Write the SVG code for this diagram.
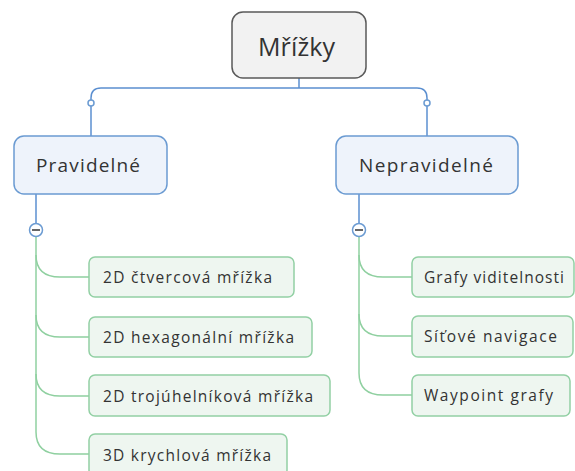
<svg xmlns="http://www.w3.org/2000/svg" width="575" height="471" viewBox="0 0 575 471">
<style>
text{font-family:"Open Sans","Noto Sans","DejaVu Sans",sans-serif;fill:#333;dominant-baseline:central}
.root rect{fill:#f2f2f2;stroke:#5a5a5a;stroke-width:1.5}
.main rect{fill:#eef3fb;stroke:#6b9bd2;stroke-width:1.5}
.leaf rect{fill:#eef6f0;stroke:#92d0a4;stroke-width:1.5}
.leaf text{font-size:15.5px}
.main text{font-size:19px}
.blue{fill:none;stroke:#5b8fd0;stroke-width:1.5}
.green{fill:none;stroke:#8fd0a0;stroke-width:1.5}
.knob{fill:#fff;stroke:#6b9bd2;stroke-width:1.5}
.minus{stroke:#333;stroke-width:1.5}
</style>
<g id="connectors">
<path class="blue" d="M299,78 V88"/>
<path class="blue" d="M91,100 V98 Q91,88 101,88 H417 Q427,88 427,98 V100"/>
<path class="blue" d="M91,106 V136"/>
<path class="blue" d="M427,106 V136"/>
<circle class="knob" cx="91" cy="103" r="3"/>
<circle class="knob" cx="427" cy="103" r="3"/>
<path class="blue" d="M36,194 V224"/>
<path class="blue" d="M359,194 V224"/>
<path class="green" d="M36,237 V432"/>
<path class="green" d="M36,255 Q36,277 60,277 H89"/>
<path class="green" d="M36,315 Q36,337 60,337 H89"/>
<path class="green" d="M36,374 Q36,396 60,396 H89"/>
<path class="green" d="M36,432 Q36,454 60,454 H89"/>
<path class="green" d="M359,237 V373"/>
<path class="green" d="M359,255 Q359,277 383,277 H412"/>
<path class="green" d="M359,314 Q359,336 383,336 H412"/>
<path class="green" d="M359,373 Q359,395 383,395 H412"/>
<circle class="knob" cx="36" cy="230" r="6.5"/>
<line class="minus" x1="32" y1="230" x2="40" y2="230"/>
<circle class="knob" cx="359" cy="230" r="6.5"/>
<line class="minus" x1="355" y1="230" x2="363" y2="230"/>
</g>
<g id="root" class="root"><rect x="232" y="12" width="134" height="66" rx="11"/><text x="258" y="46" font-size="25" textLength="77" lengthAdjust="spacing">Mřížky</text></g>
<g id="pravidelne" class="main"><rect x="14" y="136" width="153" height="58" rx="10"/><text x="36" y="165" textLength="104" lengthAdjust="spacing">Pravidelné</text></g>
<g id="nepravidelne" class="main"><rect x="336" y="136" width="182" height="58" rx="10"/><text x="359" y="165" textLength="134" lengthAdjust="spacing">Nepravidelné</text></g>
<g id="c1" class="leaf"><rect x="89" y="257" width="205" height="40" rx="6"/><text x="103" y="277" textLength="169" lengthAdjust="spacing">2D čtvercová mřížka</text></g>
<g id="c2" class="leaf"><rect x="89" y="317" width="223" height="40" rx="6"/><text x="103" y="337" textLength="191" lengthAdjust="spacing">2D hexagonální mřížka</text></g>
<g id="c3" class="leaf"><rect x="89" y="375" width="241" height="41" rx="6"/><text x="103" y="396" textLength="210" lengthAdjust="spacing">2D trojúhelníková mřížka</text></g>
<g id="c4" class="leaf"><rect x="89" y="434" width="198" height="42" rx="6"/><text x="103" y="455" textLength="168" lengthAdjust="spacing">3D krychlová mřížka</text></g>
<g id="n1" class="leaf"><rect x="412" y="257" width="162" height="40" rx="6"/><text x="424" y="277" textLength="140" lengthAdjust="spacing">Grafy viditelnosti</text></g>
<g id="n2" class="leaf"><rect x="412" y="316" width="161" height="41" rx="6"/><text x="424" y="336" textLength="133" lengthAdjust="spacing">Síťové navigace</text></g>
<g id="n3" class="leaf"><rect x="412" y="375" width="158" height="41" rx="6"/><text x="424" y="395" textLength="129" lengthAdjust="spacing">Waypoint grafy</text></g>
</svg>
